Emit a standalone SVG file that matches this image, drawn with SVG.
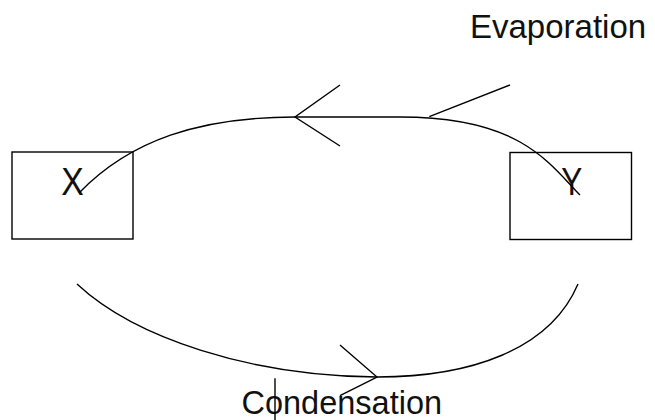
<svg xmlns="http://www.w3.org/2000/svg" width="655" height="420" viewBox="0 0 655 420">
<style>
.ln{fill:none;stroke:#000;stroke-width:1.4}
.bx{fill:none;stroke:#000;stroke-width:1.4}
.t{font-family:"Liberation Sans",Arial,sans-serif;fill:#111}
</style>
<rect width="655" height="420" fill="#fff"/>
<g id="node-X">
<rect class="bx" x="12" y="152" width="121" height="87"/>
<text class="t" x="72.5" y="195" font-size="38" text-anchor="middle" textLength="22.5" lengthAdjust="spacingAndGlyphs">X</text>
</g>
<g id="node-Y">
<rect class="bx" x="510" y="152.5" width="121.5" height="87"/>
<text class="t" x="571.7" y="195" font-size="38" text-anchor="middle" textLength="21" lengthAdjust="spacingAndGlyphs">Y</text>
</g>
<g id="label-evaporation">
<text class="t" x="470" y="37.7" font-size="33">Evaporation</text>
</g>
<g id="label-condensation">
<text class="t" x="241.5" y="414" font-size="32.5">Condensation</text>
</g>
<g id="connectors">
<path class="ln" d="M79,193 C130,140 200,117 295,117 L400,117 C450,117 490,125 520,142 S565,180 580,195"/>
<path class="ln" d="M340,85 L295,117 L340,146"/>
<path class="ln" d="M429.3,116.7 L510,85"/>
<path class="ln" d="M77,284 C135,338 250,376 377,377 C470,377 550,350 578,284"/>
<path class="ln" d="M340,345 L377,377 L340,395.7"/>
<path class="ln" d="M275,378.3 L275,420"/>
</g>
</svg>
